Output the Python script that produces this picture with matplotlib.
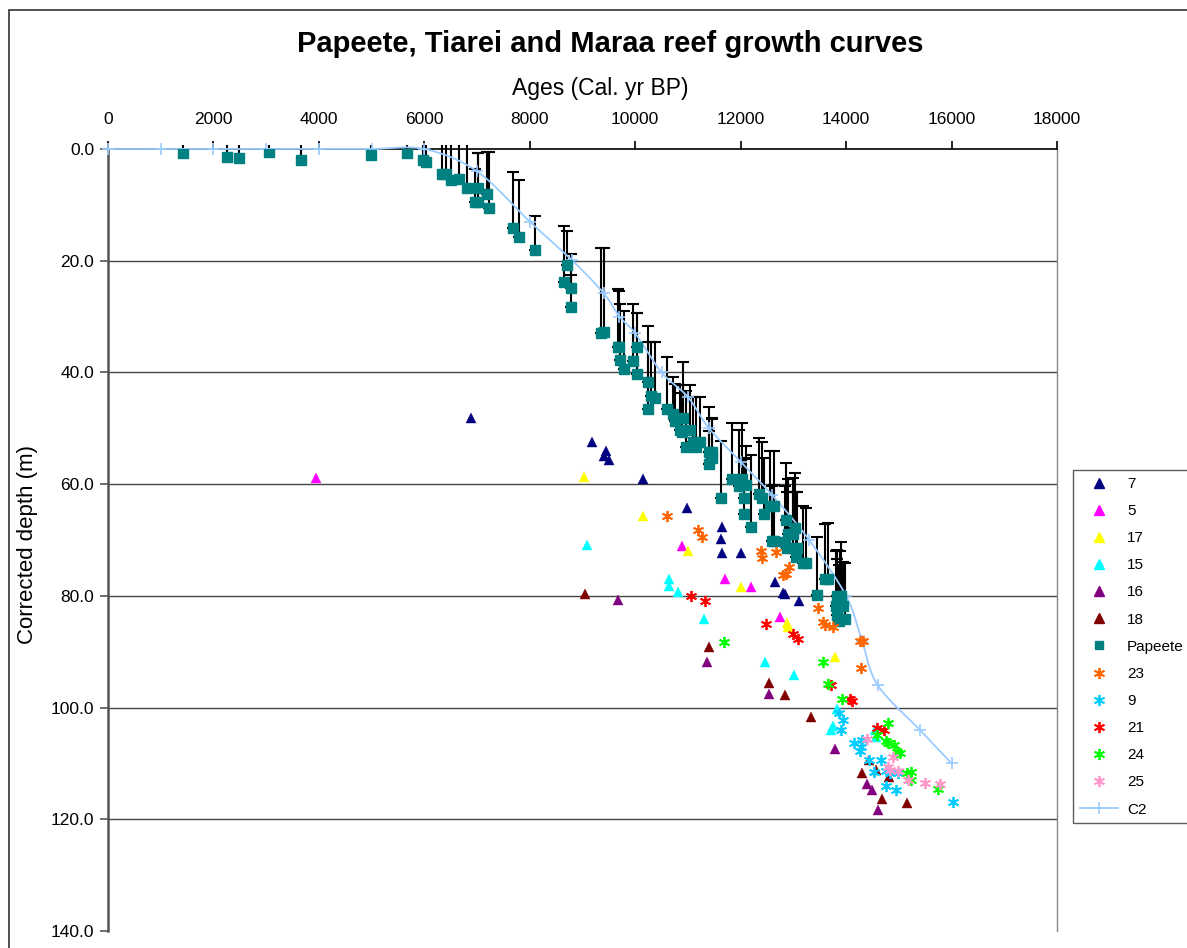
import numpy as np
import matplotlib
matplotlib.use("Agg")
import matplotlib.pyplot as plt
from matplotlib.patches import Rectangle
from matplotlib.lines import Line2D

plt.rcParams['font.family'] = ['Liberation Sans', 'DejaVu Sans']

# ---------------- data ----------------
pap_age = [1430, 2250, 2490, 3060, 3670, 4990, 5680, 5980, 6040, 6330, 6420, 6510, 6660, 6800,
           6960, 7020, 7020, 7190, 7230,
           7690, 7800, 8100, 8640, 8710, 8790, 8790,
           9360, 9410, 9680, 9700, 9720, 9790, 9960, 10040, 10040, 10250, 10250, 10290, 10370,
           10600, 10710, 10750, 10910, 10850, 10880, 11040, 10960, 11100, 11150, 11220, 11390,
           11460, 11460, 11400, 11630, 11830, 11970, 12030, 12110, 12070, 12070, 12200, 12350,
           12400, 12450, 12560, 12640, 12600, 12640, 12860, 12850, 12900, 12990, 12880, 12990,
           13060, 13040, 13050, 13190, 13240, 13600, 13660, 13440, 13830, 13910, 13800, 13880,
           13950, 13820, 13870, 13980]
pap_depth = [0.7, 1.5, 1.7, 0.6, 2.0, 1.1, 0.65, 2.0, 2.4, 4.5, 4.5, 5.5, 5.3, 7.0,
             9.5, 9.5, 6.9, 8.1, 10.6,
             14.2, 15.8, 18.0, 23.9, 20.8, 24.8, 28.3,
             33.0, 32.8, 35.4, 35.4, 37.8, 39.3, 38.0, 35.5, 40.2, 41.8, 46.6, 44.3, 44.5,
             46.6, 47.5, 48.7, 48.2, 50.3, 50.7, 50.3, 53.4, 52.4, 53.4, 52.4, 54.2,
             54.2, 55.4, 56.4, 62.4, 59.1, 60.3, 59.0, 60.2, 62.5, 65.4, 67.7, 61.7,
             62.5, 65.4, 64.0, 64.0, 70.1, 70.1, 66.4, 70.4, 68.9, 68.9, 71.4, 71.4,
             71.4, 67.9, 73.0, 74.2, 74.2, 77.0, 77.0, 79.9, 80.0, 80.0, 81.9, 81.9,
             81.9, 83.4, 84.5, 84.1]
pap_err = [1.4, 2.2, 2.4, 1.3, 2.7, 1.8, 1.4, 2.7, 3.1, 5.2, 5.2, 6.2, 6.0, 7.7,
           6.0, 8.8, 6.2, 7.6, 10.1,
           10.0, 10.3, 6.0, 10.1, 6.2, 6.0, 5.8,
           15.2, 15.0, 10.3, 10.0, 10.1, 10.3, 10.2, 6.1, 10.8, 10.1, 12.0, 9.8, 10.0,
           9.4, 6.6, 6.6, 10.1, 8.0, 7.0, 8.0, 10.0, 8.0, 9.0, 8.0, 8.0,
           6.0, 7.0, 6.0, 10.2, 10.1, 10.0, 10.0, 7.0, 7.0, 10.0, 13.0, 10.0,
           10.0, 10.0, 10.0, 10.0, 9.8, 10.0, 10.1, 10.0, 9.9, 10.0, 10.0, 10.0,
           10.0, 9.9, 11.6, 10.3, 10.0, 9.9, 10.0, 10.4, 8.2, 9.7, 10.0, 10.0,
           8.0, 10.0, 10.0, 9.9]

s7_age = [6885, 9180, 9440, 9410, 9500, 10140, 10990, 11650, 11620, 11640, 12000, 12650, 12800, 12840, 13110]
s7_depth = [48.2, 52.5, 54.1, 55.0, 55.7, 59.1, 64.3, 67.6, 69.9, 72.3, 72.4, 77.6, 79.4, 79.7, 80.9]

s5_age = [3945, 10890, 11710, 12200, 12750]
s5_depth = [58.9, 71.0, 77.0, 78.5, 83.7]

s17_age = [9030, 10140, 11010, 12010, 12870, 12900, 13790]
s17_depth = [58.7, 65.7, 72.0, 78.5, 84.9, 85.5, 91.0]

s15_age = [9085, 10640, 10640, 10820, 11300, 12460, 13020, 13830, 13760, 13710, 14540, 14570]
s15_depth = [70.9, 77.0, 78.2, 79.3, 84.2, 91.9, 94.2, 100.3, 103.3, 104.0, 104.0, 105.3]

s16_age = [9680, 11360, 12530, 13780, 14390, 14500, 14610]
s16_depth = [80.8, 91.8, 97.6, 107.5, 113.6, 114.8, 118.4]

s18_age = [9050, 11400, 12530, 12850, 13330, 14310, 14430, 14570, 14820, 14690, 15160]
s18_depth = [79.7, 89.2, 95.6, 97.8, 101.6, 111.7, 109.3, 111.2, 112.4, 116.3, 117.0]

s23_age = [10600, 11200, 11260, 12390, 12410, 12670, 12920, 12860, 12810, 13470, 13570, 13600,
           13760, 14260, 14320, 14290]
s23_depth = [65.7, 68.2, 69.4, 71.9, 73.3, 72.1, 74.8, 76.0, 76.3, 82.2, 84.6, 85.2,
             85.5, 88.0, 88.0, 93.0]

s9_age = [13870, 13950, 13910, 14150, 14280, 14260, 14310, 14440, 14670, 14520, 14760, 14830,
          14990, 14760, 14950, 16020]
s9_depth = [100.9, 102.2, 104.0, 106.3, 107.0, 107.7, 105.8, 109.4, 109.4, 111.5, 111.3, 111.7,
            111.8, 114.1, 114.8, 116.9]

s21_age = [11060, 11320, 12480, 12990, 13090, 13720, 14070, 14120, 14590, 14720]
s21_depth = [80.0, 80.9, 85.0, 86.9, 87.8, 96.0, 98.4, 98.8, 103.7, 104.0]

s24_age = [11690, 13570, 13660, 13930, 14800, 14580, 14760, 14800, 14900, 14960, 15020, 15150,
           15230, 15240, 15740]
s24_depth = [88.2, 91.9, 95.8, 98.5, 102.7, 104.9, 105.9, 106.4, 106.7, 107.9, 108.2, 111.8,
             111.5, 113.0, 114.6]

s25_age = [14400, 14880, 14800, 14830, 14990, 15180, 15500, 15780]
s25_depth = [105.6, 108.8, 110.6, 111.1, 111.3, 112.9, 113.5, 113.7]

c2_age = [0, 1000, 2000, 3000, 4000, 5000, 6000, 7000, 8000, 8800, 9400, 9700, 10000, 10500,
          11000, 11400, 12000, 12600, 13300, 14000, 14300, 14600, 15400, 16000]
c2_depth = [0, 0, 0, 0, 0, 0, 0, 4.0, 13.0, 19.9, 25.8, 30.0, 33.0, 40.0,
            44.4, 50.0, 56.0, 62.0, 70.0, 80.0, 88.0, 96.0, 104.0, 110.0]

x_ticks = [0, 2000, 4000, 6000, 8000, 10000, 12000, 14000, 16000, 18000]
y_ticks = [0, 20, 40, 60, 80, 100, 120, 140]

# ---------------- figure ----------------
W, H = 1187, 948
fig = plt.figure(figsize=(W / 100, H / 100), dpi=100)
fig.patch.set_facecolor('white')

# chart border
fig.patches.append(Rectangle((9 / W, -0.05), 1.2, 1 - 10 / H + 0.05, transform=fig.transFigure,
                             fill=False, edgecolor='#333333', lw=1.2, zorder=0))

ax = fig.add_axes([108 / W, 1 - 931 / H, (1057 - 108) / W, (931 - 149) / H])
ax.set_xlim(0, 18000)
ax.set_ylim(140, 0)

for v in y_ticks[1:-1]:
    ax.axhline(v, color='#444444', lw=1.0, zorder=1)

ax.spines['top'].set_color('black')
ax.spines['top'].set_linewidth(1.2)
ax.spines['left'].set_color('#555555')
ax.spines['left'].set_linewidth(1.8)
ax.spines['right'].set_color('#888888')
ax.spines['right'].set_linewidth(1.0)
ax.spines['bottom'].set_visible(False)

ax.xaxis.tick_top()
ax.xaxis.set_label_position('top')
ax.set_xticks(x_ticks)
ax.set_xticklabels([str(v) for v in x_ticks], fontsize=12.5)
ax.set_yticks(y_ticks)
ax.set_yticklabels([f"{v:.1f}" for v in y_ticks], fontsize=12.5)
ax.tick_params(axis='x', direction='out', length=6, width=1.2, pad=10, color='black')
ax.tick_params(axis='y', direction='out', length=6, width=1.2, pad=4, color='#555555')

# smooth (Excel-like Bezier) curve for C2
fx = (1057 - 108) / 18000.0
fy = (931 - 149) / 140.0
P = np.column_stack([np.array(c2_age) * fx, np.array(c2_depth) * fy])
n = len(P)
curve = []
t = np.linspace(0, 1, 20)
for i in range(n - 1):
    p0 = P[i - 1] if i > 0 else P[i]
    p1 = P[i]
    p2 = P[i + 1]
    p3 = P[i + 2] if i + 2 < n else P[i + 1]
    c1 = p1 + (p2 - p0) / 6.0
    c2 = p2 - (p3 - p1) / 6.0
    seg = ((1 - t) ** 3)[:, None] * p1 + (3 * (1 - t) ** 2 * t)[:, None] * c1 + \
          (3 * (1 - t) * t ** 2)[:, None] * c2 + (t ** 3)[:, None] * p2
    curve.append(seg)
curve = np.vstack(curve)

# Papeete error bars (upward only)
pa = np.array(pap_age)
pdp = np.array(pap_depth)
pe = np.array(pap_err)
surf = (pdp - pe) < 0
ax.errorbar(pa[~surf], pdp[~surf], yerr=[pe[~surf], np.zeros((~surf).sum())], fmt='none',
            ecolor='black', elinewidth=1.5, capsize=4.5, capthick=1.5, zorder=3)
ax.errorbar(pa[surf], pdp[surf], yerr=[pe[surf], np.zeros(surf.sum())], fmt='none',
            ecolor='black', elinewidth=1.5, capsize=0, zorder=3, clip_on=False)

ax.plot(curve[:, 0] / fx, curve[:, 1] / fy, color='#99CCFF', lw=1.3, zorder=4, clip_on=False)
ax.plot(c2_age, c2_depth, ls='none', marker='+', ms=9, mew=1.2, color='#99CCFF', zorder=4,
        clip_on=False)

tri = dict(ls='none', marker='^', ms=7.5, mew=0.3, zorder=5)
star = dict(ls='none', marker=(6, 2, 0), ms=8, mew=1.3, zorder=5)

ax.plot(s7_age, s7_depth, color='#000080', mec='#000080', **tri)
ax.plot(s5_age, s5_depth, color='#FF00FF', mec='#FF00FF', **tri)
ax.plot(s17_age, s17_depth, color='#FFFF00', mec='#FFFF00', **tri)
ax.plot(s15_age, s15_depth, color='#00FFFF', mec='#00FFFF', **tri)
ax.plot(s16_age, s16_depth, color='#800080', mec='#800080', **tri)
ax.plot(s18_age, s18_depth, color='#800000', mec='#800000', **tri)
ax.plot(pap_age, pap_depth, ls='none', marker='s', ms=6.5, color='#008080', mec='#008080', zorder=5)
ax.plot(s23_age, s23_depth, color='#FF6600', **star)
ax.plot(s9_age, s9_depth, color='#00CCFF', **star)
ax.plot(s21_age, s21_depth, color='#FF0000', **star)
ax.plot(s24_age, s24_depth, color='#00FF00', **star)
ax.plot(s25_age, s25_depth, color='#FF99CC', **star)

# texts
fig.text(610 / W, 1 - 44 / H, "Papeete, Tiarei and Maraa reef growth curves", ha='center',
         va='center', fontsize=21, fontweight='bold')
fig.text(600 / W, 1 - 88 / H, "Ages (Cal. yr BP)", ha='center', va='center', fontsize=16.5)
fig.text(28 / W, 1 - 544 / H, "Corrected depth (m)", ha='center', va='center', fontsize=16,
         rotation=90)

# legend
handles = [
    Line2D([], [], color='#000080', ls='none', marker='^', ms=7),
    Line2D([], [], color='#FF00FF', ls='none', marker='^', ms=7),
    Line2D([], [], color='#FFFF00', ls='none', marker='^', ms=7),
    Line2D([], [], color='#00FFFF', ls='none', marker='^', ms=7),
    Line2D([], [], color='#800080', ls='none', marker='^', ms=7),
    Line2D([], [], color='#800000', ls='none', marker='^', ms=7),
    Line2D([], [], color='#008080', ls='none', marker='s', ms=6),
    Line2D([], [], color='#FF6600', ls='none', marker=(6, 2, 0), ms=8, mew=1.3),
    Line2D([], [], color='#00CCFF', ls='none', marker=(6, 2, 0), ms=8, mew=1.3),
    Line2D([], [], color='#FF0000', ls='none', marker=(6, 2, 0), ms=8, mew=1.3),
    Line2D([], [], color='#00FF00', ls='none', marker=(6, 2, 0), ms=8, mew=1.3),
    Line2D([], [], color='#FF99CC', ls='none', marker=(6, 2, 0), ms=8, mew=1.3),
    Line2D([], [], color='#99CCFF', lw=1.3, marker='+', ms=9, mew=1.2),
]
labels = ['7', '5', '17', '15', '16', '18', 'Papeete', '23', '9', '21', '24', '25', 'C2']
leg = fig.legend(handles, labels, loc='upper left', bbox_to_anchor=(1073 / W, 1 - 470 / H),
                 fontsize=11, frameon=True, fancybox=False, edgecolor='#333333',
                 handlelength=2.5, handletextpad=0.6, labelspacing=0.86, borderpad=0.45,
                 borderaxespad=0)
leg.get_frame().set_linewidth(1.0)

fig.savefig('out.png', dpi=100, facecolor='white')
